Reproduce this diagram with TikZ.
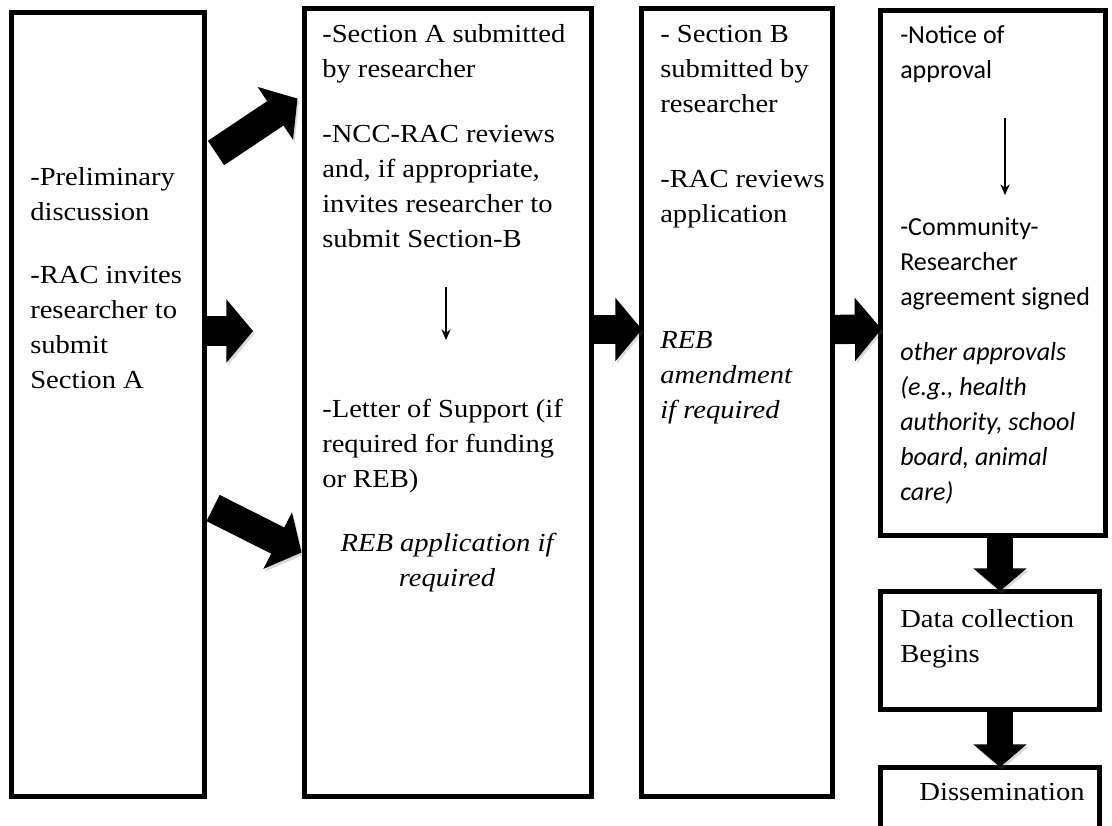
\documentclass[tikz,border=0pt]{standalone}
\usepackage{fontspec}
\setmainfont{Liberation Serif}[FakeStretch=1.1]
\newfontfamily\calfont{Carlito}
\usetikzlibrary{arrows.meta,calc,positioning}

\begin{document}
\begin{tikzpicture}[x=0.75pt,y=-0.75pt,
  stage/.style={draw,line width=3.75pt,inner sep=0pt,outer sep=0pt,anchor=north west},
  txt/.style={anchor=base west,inner sep=0pt,align=left,font=\fontsize{19.5}{26.25}\selectfont},
  cal/.style={txt,font=\fontsize{19.5}{26.25}\calfont},
  shade/.style={preaction={draw=black!60,opacity=0.25,transform canvas={shift={(1.2pt,-2pt)}}}},
  fat/.style={shade,line width=22pt,-{Triangle[length=20pt,width=46.5pt]}},
  fatdown/.style={shade,line width=19pt,-{Triangle[length=17pt,width=39pt]}},
  slim/.style={line width=0.8pt,-{Stealth[length=8pt,width=7pt]}}]
\useasboundingbox (0,0) rectangle (1112,825);

% stage boxes
\node[stage,minimum width=144.4pt,minimum height=588pt] (b1) at (11.5,12) {};
\node[stage,minimum width=215.6pt,minimum height=591pt] (b2) at (304.5,8.5) {};
\node[stage,minimum width=143.3pt,minimum height=591pt] (b3) at (641,8.5) {};
\node[stage,minimum width=168.4pt,minimum height=393.8pt] (b4) at (880.5,10) {};
\node[stage,minimum width=164.6pt,minimum height=88.5pt] (b5) at (880.5,591) {};
\node[stage,minimum width=164.6pt,minimum height=54pt] (b6) at (880.5,767) {};

% box 1
\node[txt] (p1) at (30,220) {-Preliminary\\discussion};
\node[txt] (p2) at (30,388) {-RAC invites\\researcher to\\submit\\Section A};
% box 2
\node[txt] (s1) at (322,77) {-Section A submitted\\by researcher};
\node[txt] (s2) at (322,247) {-NCC-RAC reviews\\and, if appropriate,\\invites researcher to\\submit Section-B};
\node[txt] (s3) at (322,487) {-Letter of Support (if\\required for funding\\or REB)};
\node[txt,anchor=base,align=center,font=\fontsize{19.5}{26.25}\selectfont\itshape] (s4) at (447,586) {REB application if\\required};
\coordinate (s2a) at (446,287);
\coordinate (s2b) at (446,340);
% box 3
\node[txt] (r1) at (660,112) {- Section B\\submitted by\\researcher};
\node[txt] (r2) at (660,222) {-RAC reviews\\application};
\node[txt,font=\fontsize{19.5}{26.25}\selectfont\itshape] (r3) at (660,418) {REB\\amendment\\if required};
% box 4
\node[cal] (n1) at (900,78) {-Notice of\\approval};
\coordinate (n1a) at (1005,118);
\coordinate (n1b) at (1005,195);
\node[cal] (n2) at (900,305) {-Community-\\Researcher\\agreement signed};
\node[cal,font=\fontsize{19.5}{26.25}\calfont\itshape] (n3) at (900,500) {other approvals\\(e.g., health\\authority, school\\board, animal\\care)};
% box 5 and 6
\node[txt] (d1) at (900,662) {Data collection\\Begins};
\node[txt,anchor=base] (d2) at (1002,800) {Dissemination};
\coordinate (ax) at (1000,0);

% thin arrows
\draw[slim] (s2a) -- (s2b);
\draw[slim] (n1a) -- (n1b);

% fat arrows
\draw[fat] ($(b1.north east)+(12,141)$) -- ($(b2.north west)+(-7,90)$);
\draw[fat] ($(b1.north east)+(-2,319)$) -- ($(b1.north east)+(49,319)$);
\draw[fat] ($(b1.north east)+(9,496)$) -- ($(b2.north west)+(-3,544)$);
\draw[fat] ($(b2.north east)+(-1,321)$) -- ($(b3.north west)+(1,321)$);
\draw[fat] ($(b3.north east)+(-1,321)$) -- ($(b4.north west)+(1,319)$);
\draw[fatdown] (b4.south -| ax) -- (b5.north -| ax);
\draw[fatdown] (b5.south -| ax) -- (b6.north -| ax);
\end{tikzpicture}
\end{document}
